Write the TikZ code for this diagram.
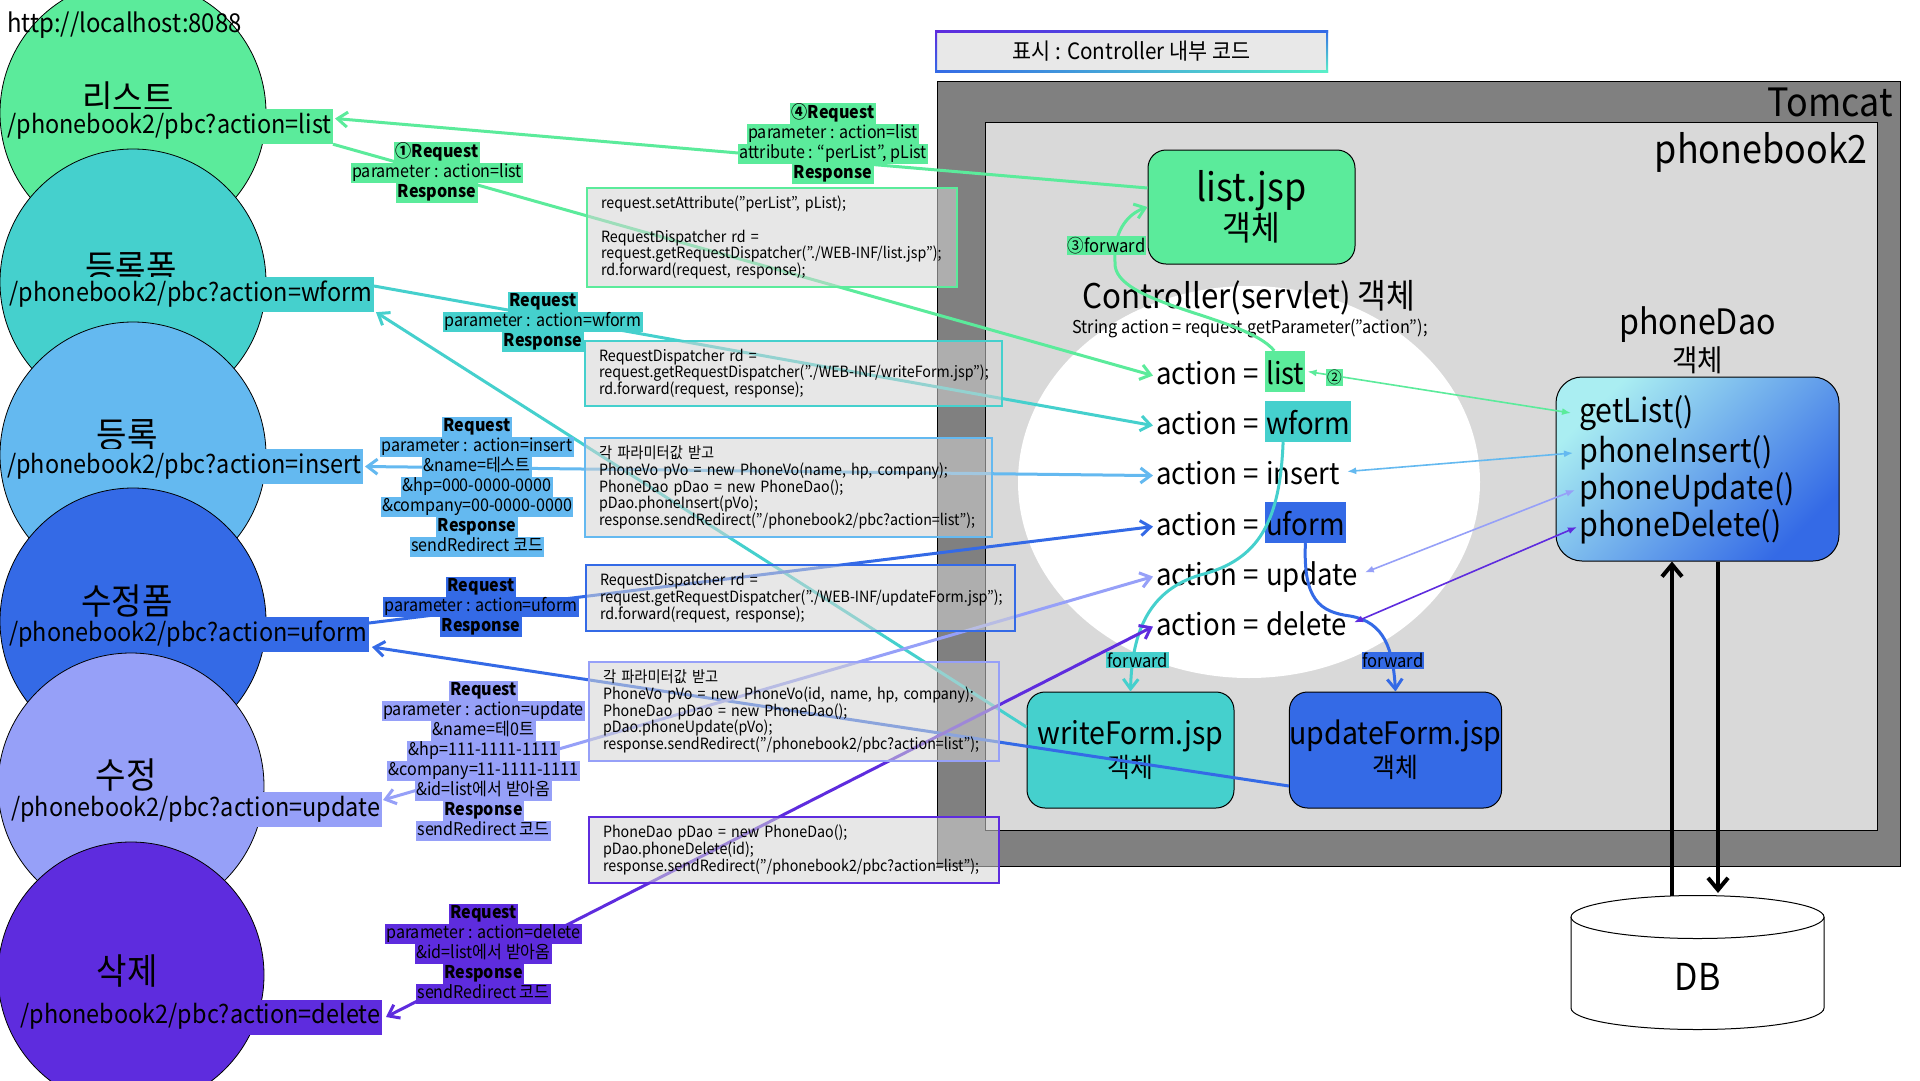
\documentclass[tikz,border=0pt]{standalone}
\usepackage{fontspec}
\setmainfont{Noto Sans CJK KR}[FakeStretch=0.92]
\usetikzlibrary{arrows.meta,calc}
\definecolor{cList}{RGB}{91,235,155}
\definecolor{cWform}{RGB}{69,208,205}
\definecolor{cInsert}{RGB}{100,185,240}
\definecolor{cUform}{RGB}{52,106,230}
\definecolor{cUpdate}{RGB}{150,160,248}
\definecolor{cDelete}{RGB}{94,44,222}
\definecolor{cMint}{RGB}{90,240,200}
\definecolor{cTomcat}{RGB}{128,128,128}
\definecolor{cInner}{RGB}{217,217,217}
\definecolor{cCode}{RGB}{212,212,212}
\definecolor{cLeg}{RGB}{232,232,232}
\definecolor{cDaoA}{RGB}{170,238,242}
\setlength{\fboxsep}{0pt}
\lineskiplimit=-50pt
\hyphenpenalty=10000
\exhyphenpenalty=10000
\newcommand\hlx[2]{\colorbox{#1}{\hspace{1.5pt}\strut#2\hspace{1.5pt}}}
\newcommand\fs[2]{\fontsize{#1}{#2}\selectfont}
\begin{document}
\begin{tikzpicture}[x=1pt,y=-1pt,
  circ/.style={circle, draw=black, line width=0.8pt, minimum size=266pt, inner sep=0pt},
  ttl/.style={font=\fs{36}{40}, inner sep=0pt},
  urlbox/.style={anchor=east, font=\fs{25.5}{30}, inner xsep=1.5pt, inner ysep=3pt, text height=21pt, text depth=8pt},
  req/.style={line width=3pt, -{Straight Barb[length=10pt,width=15pt]}},
  dbl/.style={line width=3pt, {Straight Barb[length=10pt,width=15pt]}-{Straight Barb[length=10pt,width=15pt]}},
  thinarr/.style={line width=1.6pt, {Latex[length=9pt,width=7pt]}-{Latex[length=9pt,width=7pt]}},
  lbl/.style={align=center, inner sep=0pt, anchor=north, font=\fs{17.5}{20}},
  codebox/.style={draw=#1, line width=2pt, fill=cCode, fill opacity=0.55, text opacity=1, draw opacity=1, align=left, inner xsep=14pt, inner ysep=0pt, font=\fs{15.5}{16.7}},
  actrow/.style={anchor=base west, inner sep=0pt, font=\fs{30}{34}},
  actval/.style={anchor=base west, inner xsep=1pt, inner ysep=1pt, text height=32pt, text depth=7pt, font=\fs{30}{34}},
  jsp/.style={draw=black, line width=1pt, rounded corners=18pt, align=center, inner sep=0pt},
  meth/.style={anchor=west, inner sep=0pt, font=\fs{33}{36}},
  fwd/.style={font=\fs{18}{20}, inner xsep=1pt, inner ysep=1pt},
]
\fill[white] (0,0) rectangle (1920,1080);
\useasboundingbox (0,0) rectangle (1920,1080);

% Tomcat container
\node[draw=black, line width=1.2pt, fill=cTomcat, minimum width=963pt, minimum height=785pt, inner sep=0pt, anchor=north west] (tomcat) at (937,81) {};
\node[anchor=east, font=\fs{39}{42}, inner sep=0pt] (tomcatT) at (1893,102) {Tomcat};
\node[draw=black, line width=1.2pt, fill=cInner, minimum width=892pt, minimum height=708pt, inner sep=0pt, anchor=north west] (pb) at (985,122) {};
\node[anchor=east, font=\fs{39}{42}, inner sep=0pt] (pbT) at (1868,152) {phonebook2};

% controller ellipse
\fill[white] (1249,482) ellipse [x radius=231, y radius=196];
\node[font=\fs{34}{36}, inner sep=0pt] (ctrl) at (1249,298) {Controller(servlet) 객체};
\node[font=\fs{17.7}{20}, inner sep=0pt] (ctrlS) at (1250,328) {String action = request.getParameter("action");};

% action rows
\node[actrow] (aList) at (1156,384) {action =};
\node[actval, fill=cList] (vList) at (1265,384) {list};
\node[actrow] (aWform) at (1156,434) {action =};
\node[actval, fill=cWform] (vWform) at (1265,434) {wform};
\node[actrow] (aInsert) at (1156,484) {action =};
\node[actval] (vInsert) at (1265,484) {insert};
\node[actrow] (aUform) at (1156,535) {action =};
\node[actval, fill=cUform] (vUform) at (1265,535) {uform};
\node[actrow] (aUpdate) at (1156,585) {action =};
\node[actval] (vUpdate) at (1265,585) {update};
\node[actrow] (aDelete) at (1156,635) {action =};
\node[actval] (vDelete) at (1265,635) {delete};

% jsp objects
\node[jsp, fill=cList, minimum width=207pt, minimum height=114pt, font=\fs{39}{39}] (lj) at (1251.5,207) {list.jsp\\\fs{34}{39}객체};
\node[jsp, fill=cWform, minimum width=207pt, minimum height=116pt, font=\fs{31}{33}] (wf) at (1130.5,750) {writeForm.jsp\\\fs{27}{33}객체};
\node[jsp, fill=cUform, minimum width=207pt, minimum height=116pt, font=\fs{31}{33}] (uf) at (1395.5,750) {updateForm.jsp\\\fs{27}{33}객체};

% phoneDao
\node[font=\fs{35}{38}, inner sep=0pt] (daoT) at (1697.5,325) {phoneDao};
\node[font=\fs{30}{34}, inner sep=0pt] (daoK) at (1697.5,360) {객체};
\node[draw=black, line width=1pt, rounded corners=26pt, minimum width=283pt, minimum height=184pt, inner sep=0pt, top color=cDaoA, middle color=cWform, bottom color=cUform, shading angle=45] (dao) at (1697.5,469) {};
\node[meth] (mGet) at (1579,413) {getList()};
\node[meth] (mIns) at (1579,453) {phoneInsert()};
\node[meth] (mUpd) at (1579,490) {phoneUpdate()};
\node[meth] (mDel) at (1579,527) {phoneDelete()};

% DB
\draw[fill=white, line width=1pt] (1571,917) -- (1571,1008) arc[start angle=180, end angle=0, x radius=126.5, y radius=21.5] -- (1824,917);
\draw[fill=white, line width=1pt] (1697.5,917) ellipse [x radius=126.5, y radius=21.5];
\node[font=\fs{37}{40}, inner sep=0pt] (db) at (1697.5,977) {DB};
\coordinate (dbUp) at (1672,896);
\coordinate (dbDn) at (1718,893);
\draw[line width=4pt, -{Straight Barb[length=12pt,width=20pt]}] (dbUp) -- (dbUp |- dao.south);
\draw[line width=4pt, -{Straight Barb[length=12pt,width=20pt]}] (dbDn |- dao.south) -- (dbDn);

% legend
\node[fill=cLeg, minimum width=391pt, minimum height=40pt, inner sep=0pt, font=\fs{22.5}{24}] (leg) at (1131.5,51) {표시 : Controller 내부 코드};
\shade[left color=cDelete, right color=cUform] (935,30) rectangle (1328,32);
\shade[left color=cUform, right color=cMint] (935,70) rectangle (1328,72);
\shade[top color=cDelete, bottom color=cUform] (935,30) rectangle (937,72);
\shade[top color=cUform, bottom color=cMint] (1326,30) rectangle (1328,72);

% client circles
\node[circ, fill=cList] (cL) at (133,113) {};
\node[ttl] (tL) at (128,98) {리스트};
\node[urlbox, fill=cList] (uL) at (333,126.5) {/phonebook2/pbc?action=list};
\node[circ, fill=cWform] (cW) at (133,282) {};
\node[ttl] (tW) at (131,268) {등록폼};
\node[urlbox, fill=cWform] (uW) at (374,294.5) {/phonebook2/pbc?action=wform};
\node[circ, fill=cInsert] (cI) at (133,455) {};
\node[ttl] (tI) at (127,435) {등록};
\node[urlbox, fill=cInsert] (uI) at (363,466.5) {/phonebook2/pbc?action=insert};
\node[circ, fill=cUform] (cU) at (133,621) {};
\node[ttl] (tU) at (127,601) {수정폼};
\node[urlbox, fill=cUform] (uU) at (369,634.5) {/phonebook2/pbc?action=uform};
\node[circ, fill=cUpdate] (cUp) at (131,786) {};
\node[ttl] (tUp) at (126,775) {수정};
\node[urlbox, fill=cUpdate] (uUp) at (382,809.5) {/phonebook2/pbc?action=update};
\node[circ, fill=cDelete] (cD) at (131,975) {};
\node[ttl] (tD) at (127,971) {삭제};
\node[urlbox, fill=cDelete] (uD) at (382,1017) {/phonebook2/pbc?action=delete};
\node[anchor=west, font=\fs{26}{28}, inner sep=0pt] (host) at (7,25) {http://localhost:8088};

% connectors: list
\draw[req, cList] (uL.south east) -- ([xshift=-3pt,yshift=-3pt]aList.west);
\draw[req, cList] ([yshift=19pt]lj.west) -- ([xshift=2pt,yshift=8pt]uL.east);
\draw[thinarr, cList] ([xshift=2pt]vList.east) -- ([xshift=-8pt]mGet.west);
\draw[req, cList] ([xshift=-11pt]vList.north) .. controls (1245,315) and (1112,305) .. (1115,262) .. controls (1113,235) and (1125,215) .. (lj.west);
% wform
\draw[req, cWform] ([yshift=8.5pt]uW.east) -- ([xshift=-3pt,yshift=-3pt]aWform.west);
\draw[req, cWform] ([yshift=23pt]wf.west) -- ([xshift=2pt]uW.south east);
\draw[req, cWform] ([xshift=-25pt]vWform.south) .. controls (1280,520) and (1260,560) .. (1200,575) .. controls (1150,590) and (1132,630) .. (wf.north);
% insert
\draw[dbl, cInsert] ([xshift=2pt]uI.east) -- ([xshift=-3pt,yshift=-3pt]aInsert.west);
\draw[thinarr, cInsert] ([xshift=6pt]vInsert.east) -- ([xshift=-6pt]mIns.west);
% uform
\draw[req, cUform] ([yshift=11.5pt]uU.east) -- ([xshift=-3pt,yshift=-3pt]aUform.west);
\draw[req, cUform] ([yshift=-36pt]uf.west) -- ([xshift=3pt,yshift=-12.5pt]uU.east);
\draw[req, cUform] (vUform.south) .. controls (1303,600) and (1320,612) .. (1350,616) .. controls (1385,622) and (1393,650) .. (uf.north);
% update
\draw[dbl, cUpdate] ([xshift=1pt,yshift=9.5pt]uUp.east) -- ([xshift=-3pt,yshift=-3pt]aUpdate.west);
\draw[thinarr, cUpdate] ([xshift=6pt]vUpdate.east) -- ([xshift=-4pt]mUpd.west);
% delete
\draw[dbl, cDelete] ([xshift=4pt]uD.east) -- ([xshift=-3pt,yshift=-3pt]aDelete.west);
\draw[thinarr, cDelete] ([xshift=6pt]vDelete.east) -- ([xshift=-2pt]mDel.west);

% code boxes
\node[codebox=cList, text width=342pt, minimum height=99pt] (k1) at (772,237.5) {request.setAttribute("perList", pList);\\ \mbox{}\\RequestDispatcher rd =\\request.getRequestDispatcher("./WEB-INF/list.jsp");\\rd.forward(request, response);};
\node[codebox=cWform, text width=389pt, minimum height=65pt] (k2) at (793.5,373.5) {RequestDispatcher rd =\\request.getRequestDispatcher("./WEB-INF/writeForm.jsp");\\rd.forward(request, response);};
\node[codebox=cInsert, text width=379pt, minimum height=99pt] (k3) at (788.5,487.5) {각 파라미터값 받고\\PhoneVo pVo = new PhoneVo(name, hp, company);\\PhoneDao pDao = new PhoneDao();\\pDao.phoneInsert(pVo);\\response.sendRedirect("/phonebook2/pbc?action=list");};
\node[codebox=cUform, text width=401pt, minimum height=66pt] (k4) at (800.5,598) {RequestDispatcher rd =\\request.getRequestDispatcher("./WEB-INF/updateForm.jsp");\\rd.forward(request, response);};
\node[codebox=cUpdate, text width=382pt, minimum height=99pt] (k5) at (794,711.5) {각 파라미터값 받고\\PhoneVo pVo = new PhoneVo(id, name, hp, company);\\PhoneDao pDao = new PhoneDao();\\pDao.phoneUpdate(pVo);\\response.sendRedirect("/phonebook2/pbc?action=list");};
\node[codebox=cDelete, text width=382pt, minimum height=66pt] (k6) at (794,850) {PhoneDao pDao = new PhoneDao();\\pDao.phoneDelete(id);\\response.sendRedirect("/phonebook2/pbc?action=list");};

% labels
\node[lbl] (L1) at (437,142) {\hlx{cList}{\bfseries ①Request}\\\hlx{cList}{parameter : action=list}\\\hlx{cList}{\bfseries Response}};
\node[lbl] (L4) at (833,103) {\hlx{cList}{\bfseries ④Request}\\\hlx{cList}{parameter : action=list}\\\hlx{cList}{attribute : “perList”, pList}\\\hlx{cList}{\bfseries Response}};
\node[lbl] (LW) at (543,292) {\hlx{cWform}{\bfseries Request}\\\hlx{cWform}{parameter : action=wform}\\\hlx{cWform}{\bfseries Response}};
\node[lbl] (LI) at (477,417) {\hlx{cInsert}{\bfseries Request}\\\hlx{cInsert}{parameter : action=insert}\\\hlx{cInsert}{\&name=테스트}\\\hlx{cInsert}{\&hp=000-0000-0000}\\\hlx{cInsert}{\&company=00-0000-0000}\\\hlx{cInsert}{\bfseries Response}\\\hlx{cInsert}{sendRedirect 코드}};
\node[lbl] (LU) at (481,577) {\hlx{cUform}{\bfseries Request}\\\hlx{cUform}{parameter : action=uform}\\\hlx{cUform}{\bfseries Response}};
\node[lbl] (LUp) at (483.5,681) {\hlx{cUpdate}{\bfseries Request}\\\hlx{cUpdate}{parameter : action=update}\\\hlx{cUpdate}{\&name=테0트}\\\hlx{cUpdate}{\&hp=111-1111-1111}\\\hlx{cUpdate}{\&company=11-1111-1111}\\\hlx{cUpdate}{\&id=list에서 받아옴}\\\hlx{cUpdate}{\bfseries Response}\\\hlx{cUpdate}{sendRedirect 코드}};
\node[lbl] (LD) at (483.5,904) {\hlx{cDelete}{\bfseries Request}\\\hlx{cDelete}{parameter : action=delete}\\\hlx{cDelete}{\&id=list에서 받아옴}\\\hlx{cDelete}{\bfseries Response}\\\hlx{cDelete}{sendRedirect 코드}};

% forward labels
\node[fwd, fill=cList] (n3) at (1106.5,245.5) {③forward};
\node[fwd, fill=cList, font=\fs{16}{18}] (n2) at (1334.5,377.5) {②};
\node[fwd, fill=cWform] (fw1) at (1137.5,660) {forward};
\node[fwd, fill=cUform] (fw2) at (1393,660.5) {forward};
\end{tikzpicture}
\end{document}
